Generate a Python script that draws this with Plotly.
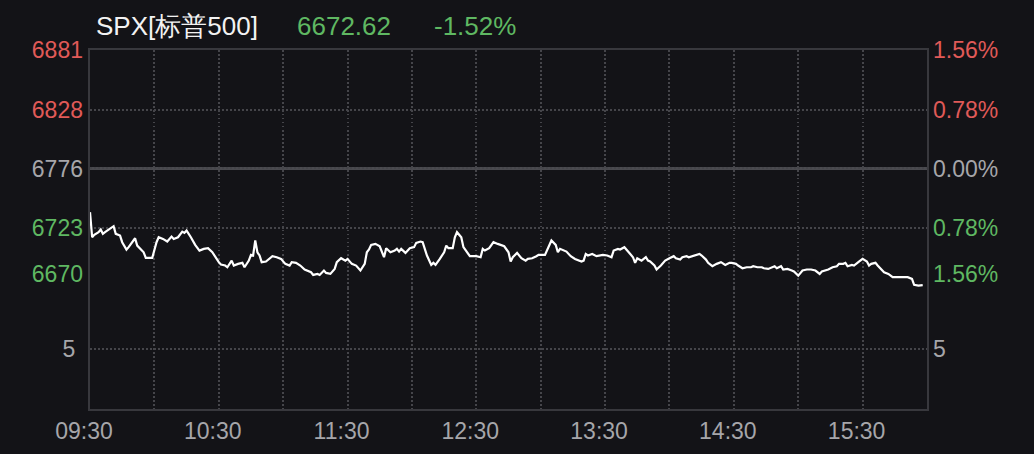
import plotly.graph_objects as go
from plotly.subplots import make_subplots

# ---------------- data ----------------
title_text = "SPX[标普500]"
last_price_text = "6672.62"
change_text = "-1.52%"
prev_close = 6776

# minutes after 09:30
minutes = [0, 1, 2, 4, 5, 6, 7, 9, 11, 12, 14, 15, 17, 18, 21, 22, 25, 26, 29, 31,
           32, 34, 36, 38, 39, 41, 43, 44, 45, 47, 49, 51, 53, 55, 57, 60, 61, 63, 64, 66,
           67, 69, 71, 72, 74, 75, 76, 77, 78, 79, 80, 82, 85, 87, 89, 91, 93, 94, 96, 98,
           100, 103, 104, 106, 107, 109, 110, 112, 114, 115, 117, 119, 120, 122, 124, 126, 128, 129, 130, 131,
           133, 135, 137, 138, 140, 142, 143, 144, 145, 147, 149, 151, 152, 154, 155, 157, 159, 160, 161, 163,
           165, 166, 167, 169, 170, 171, 173, 174, 176, 177, 180, 182, 183, 184, 186, 188, 190, 191, 193, 195,
           196, 197, 199, 201, 203, 204, 206, 208, 209, 212, 214, 215, 217, 218, 219, 222, 224, 226, 229, 230,
           231, 232, 234, 236, 239, 241, 243, 244, 246, 247, 249, 251, 253, 254, 255, 257, 259, 260, 261, 263,
           264, 266, 268, 270, 272, 273, 275, 276, 278, 279, 281, 284, 285, 287, 288, 290, 292, 294, 296, 298,
           299, 301, 302, 304, 306, 308, 309, 311, 313, 314, 316, 317, 319, 320, 322, 323, 325, 327, 328, 330,
           332, 334, 336, 338, 340, 341, 343, 344, 346, 348, 349, 351, 352, 353, 355, 356, 358, 360, 362, 363,
           364, 366, 367, 369, 370, 372, 374, 376, 379, 381, 383, 384, 386, 387, 388]
prices = [6737.2, 6715.0, 6717.1, 6719.5, 6721.8, 6718.0, 6719.5, 6722.4, 6724.8, 6718.0,
          6716.5, 6710.6, 6704.1, 6706.2, 6714.1, 6707.6, 6701.7, 6696.7, 6696.7, 6710.6,
          6715.0, 6713.5, 6711.2, 6715.6, 6713.5, 6715.0, 6720.0, 6718.9, 6720.9, 6715.0,
          6708.2, 6703.2, 6704.7, 6705.3, 6701.7, 6692.9, 6690.8, 6689.9, 6688.4, 6694.3,
          6689.9, 6691.4, 6692.3, 6688.4, 6694.3, 6699.4, 6698.8, 6712.1, 6701.7, 6698.8,
          6692.9, 6693.5, 6698.2, 6697.3, 6695.8, 6691.4, 6689.9, 6692.9, 6692.3, 6689.9,
          6686.4, 6684.0, 6681.6, 6682.5, 6681.6, 6685.5, 6683.4, 6682.5, 6686.9, 6692.9,
          6696.4, 6694.3, 6695.8, 6691.4, 6689.9, 6685.5, 6691.4, 6701.7, 6704.1, 6708.2,
          6709.1, 6707.0, 6697.3, 6705.3, 6701.7, 6703.2, 6704.7, 6702.3, 6704.7, 6701.1,
          6705.3, 6706.2, 6710.0, 6711.2, 6710.6, 6698.8, 6690.5, 6692.3, 6690.5, 6695.8,
          6701.7, 6707.6, 6705.3, 6705.3, 6715.0, 6719.5, 6715.0, 6706.2, 6700.8, 6698.2,
          6698.2, 6697.3, 6704.7, 6703.2, 6705.3, 6710.6, 6709.1, 6708.2, 6707.0, 6701.7,
          6693.5, 6697.3, 6701.1, 6696.4, 6694.3, 6695.8, 6696.4, 6698.2, 6699.4, 6699.4,
          6707.6, 6712.1, 6708.2, 6701.7, 6704.7, 6702.3, 6698.2, 6695.8, 6693.5, 6694.3,
          6700.2, 6698.8, 6700.2, 6698.2, 6699.4, 6698.8, 6697.3, 6703.2, 6704.7, 6704.1,
          6706.2, 6701.7, 6697.3, 6692.3, 6696.4, 6694.3, 6697.3, 6694.3, 6693.5, 6689.9,
          6686.4, 6689.9, 6694.3, 6696.4, 6698.2, 6696.4, 6695.2, 6697.3, 6698.2, 6697.3,
          6698.2, 6700.2, 6698.8, 6695.2, 6692.3, 6689.3, 6691.4, 6692.9, 6690.5, 6692.3,
          6692.3, 6691.4, 6689.9, 6687.5, 6688.4, 6688.4, 6689.3, 6688.4, 6688.4, 6687.5,
          6686.9, 6687.5, 6689.3, 6687.5, 6689.3, 6686.4, 6686.9, 6685.5, 6684.6, 6681.0,
          6685.5, 6686.4, 6686.4, 6685.5, 6682.5, 6684.6, 6685.5, 6686.4, 6688.4, 6689.3,
          6691.4, 6691.4, 6692.3, 6689.3, 6690.5, 6689.9, 6692.9, 6695.8, 6693.5, 6689.9,
          6691.4, 6692.3, 6689.9, 6685.5, 6684.0, 6682.5, 6679.6, 6679.6, 6679.6, 6679.6,
          6678.1, 6672.8, 6672.2, 6672.2, 6672.62]

price_levels = [6881, 6828, 6776, 6723, 6670]
price_labels = ["6881", "6828", "6776", "6723", "6670"]
pct_labels = ["1.56%", "0.78%", "0.00%", "0.78%", "1.56%"]
level_kind = ["up", "up", "flat", "down", "down"]

volume_ticks = [5]
volume_labels = ["5"]

grid_minutes = list(range(0, 391, 30))
time_labels = {0: "09:30", 60: "10:30", 120: "11:30", 180: "12:30",
               240: "13:30", 300: "14:30", 360: "15:30"}

# ---------------- style ----------------
BG = "#131317"
GRID = "#45454a"
DOT = "1.5px,2.5px"
FRAME = "#38383d"
RED = "#e05a58"
GREEN = "#5fb862"
GRAY = "#a6a6aa"
FONT = "Liberation Sans, Arial, sans-serif"
FS = 23
kind_color = {"up": RED, "flat": GRAY, "down": GREEN}

pmin, pmax = min(price_levels), max(price_levels)
prange = [pmin, pmax]
# bottom label is lifted above the panel edge
label_pos = list(price_levels)
label_pos[-1] = pmin + (pmax - pmin) * 0.06


def colored(texts):
    return [f'<span style="color:{kind_color[k]}">{t}</span>' for t, k in zip(texts, level_kind)]


fig = make_subplots(rows=2, cols=1, shared_xaxes=True, vertical_spacing=0,
                    row_heights=[238, 121])

fig.add_trace(go.Scatter(x=minutes, y=prices, mode="lines",
                         line=dict(color="#ffffff", width=2.2),
                         hoverinfo="skip", showlegend=False), row=1, col=1)

# helper traces so every axis is drawn (no visible marks)
for xa, ya in [("x2", "y2"), ("x", "y3"), ("x", "y4"), ("x2", "y5")]:
    fig.add_trace(go.Scatter(x=[minutes[0]], y=[None], xaxis=xa, yaxis=ya,
                             mode="lines", line=dict(color="rgba(0,0,0,0)"),
                             hoverinfo="skip", showlegend=False))

xtickvals = grid_minutes
xticktext = [time_labels.get(m, "") for m in grid_minutes]

common_x = dict(range=[0, 390], tickvals=xtickvals, ticktext=xticktext,
                showgrid=True, gridcolor=GRID, griddash=DOT, gridwidth=1.5,
                zeroline=False, ticks="", fixedrange=True, automargin=False)

fig.update_xaxes(**common_x)
fig.update_layout(
    xaxis=dict(showticklabels=False, side="top", showline=True, linecolor=FRAME,
               linewidth=2, mirror=False),
    xaxis2=dict(showticklabels=True, showline=True, linecolor=FRAME, linewidth=2,
                tickfont=dict(family=FONT, size=FS, color=GRAY),
                ticklabelshift=-6, ticklabelstandoff=0),
    yaxis=dict(range=prange, tickvals=price_levels, showticklabels=False,
               showgrid=True, gridcolor=GRID, griddash=DOT, gridwidth=1.5,
               zeroline=False, showline=True, linecolor=FRAME, linewidth=2,
               mirror=True, ticks="", automargin=False, fixedrange=True),
    yaxis2=dict(range=[0, 10], tickvals=volume_ticks, ticktext=volume_labels,
                showgrid=True, gridcolor=GRID, griddash=DOT, gridwidth=1.5,
                zeroline=False, showline=True, linecolor=FRAME, linewidth=2,
                mirror=True, ticks="", ticklabelstandoff=8, automargin=False,
                fixedrange=True, tickfont=dict(family=FONT, size=FS, color=GRAY)),
    yaxis3=dict(overlaying="y", anchor="x", side="left", range=prange,
                tickvals=label_pos, ticktext=colored(price_labels),
                showgrid=False, zeroline=False, showline=False, ticks="",
                ticklabelstandoff=6, automargin=False, fixedrange=True,
                tickfont=dict(family=FONT, size=FS, color=GRAY)),
    yaxis4=dict(overlaying="y", anchor="x", side="right", range=prange,
                tickvals=label_pos, ticktext=colored(pct_labels),
                showgrid=False, zeroline=False, showline=False, ticks="",
                ticklabelstandoff=5, automargin=False, fixedrange=True,
                tickfont=dict(family=FONT, size=FS, color=GRAY)),
    yaxis5=dict(overlaying="y2", anchor="x2", side="right", range=[0, 10],
                tickvals=volume_ticks, ticktext=volume_labels,
                showgrid=False, zeroline=False, showline=False, ticks="",
                ticklabelstandoff=5, automargin=False, fixedrange=True,
                tickfont=dict(family=FONT, size=FS, color=GRAY)),
)

# previous close line
fig.add_shape(type="line", xref="x domain", x0=0, x1=1, yref="y",
              y0=prev_close, y1=prev_close, line=dict(color="#4a4a4f", width=3),
              layer="below")

# header
W, H = 1034, 454
L, R, T, B = 90, 107, 50, 45
pw, ph = W - L - R, H - T - B


def px(xp):
    return (xp - L) / pw


def py(yp):
    return (H - B - yp) / ph


header = [(title_text, 94, "#f2f2f2"), (last_price_text, 295, GREEN), (change_text, 432, GREEN)]
for txt, xp, col in header:
    fig.add_annotation(text=txt, xref="paper", yref="paper", x=px(xp), y=py(26),
                       xanchor="left", yanchor="middle", showarrow=False,
                       font=dict(family=FONT, size=26, color=col))

fig.update_layout(width=W, height=H, margin=dict(l=L, r=R, t=T, b=B, autoexpand=False),
                  paper_bgcolor=BG, plot_bgcolor=BG, showlegend=False,
                  font=dict(family=FONT, size=FS, color=GRAY))

fig.write_html("out.html", config={"displayModeBar": False},
               post_script="document.body.style.margin='0';document.body.style.background='%s';" % BG)
